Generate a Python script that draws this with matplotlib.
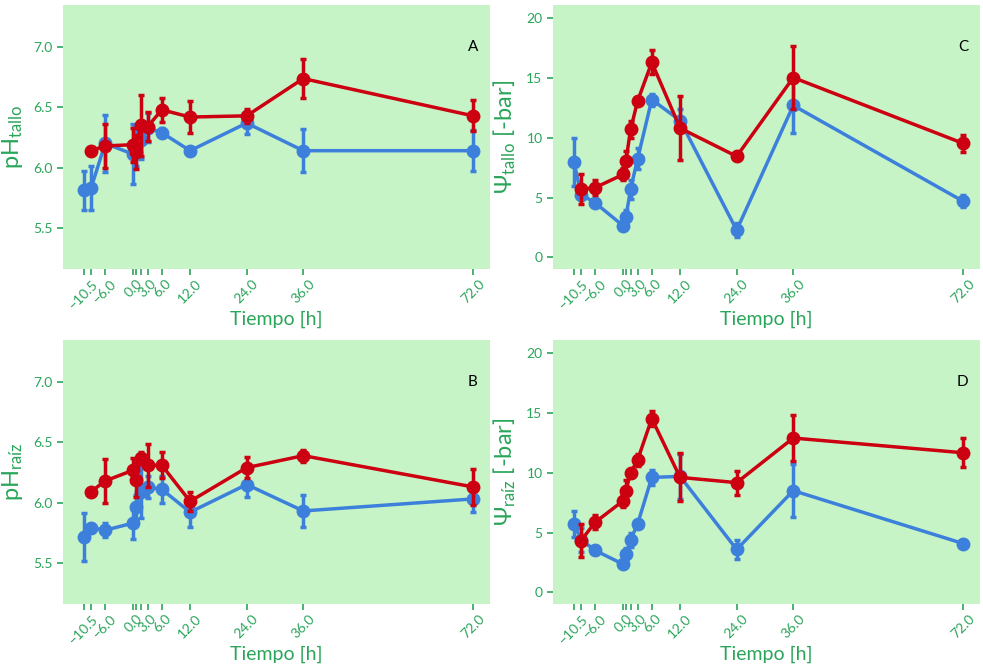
import matplotlib
matplotlib.use("Agg")
import matplotlib.pyplot as plt
import numpy as np

plt.rcParams['font.family'] = ['Lato', 'DejaVu Sans']
plt.rcParams['mathtext.fontset'] = 'custom'
plt.rcParams['mathtext.rm'] = 'Lato'
plt.rcParams['mathtext.it'] = 'Lato:italic'

# time points
t_blue = [-10.5, -9.0, -6.0, 0.0, 0.5, 1.5, 3.0, 6.0, 12.0, 24.0, 36.0, 72.0]
t_red = [-9.0, -6.0, 0.0, 0.5, 1.5, 3.0, 6.0, 12.0, 24.0, 36.0, 72.0]

tick_pos = [-10.5, -9.0, -6.0, 0.0, 0.5, 1.5, 3.0, 6.0, 12.0, 24.0, 36.0, 72.0]
tick_lab = ["\u221210.5", "", "\u22126.0", "0.0", "", "", "3.0", "6.0", "12.0", "24.0", "36.0", "72.0"]

# Panel A: pH tallo
pht_blue = [5.81, 5.83, 6.20, 6.11, 6.17, 6.23, 6.33, 6.29, 6.14, 6.37, 6.14, 6.14]
pht_blue_err = [0.16, 0.18, 0.24, 0.25, 0.16, 0.16, 0.12, 0.04, 0.03, 0.09, 0.18, 0.17]
pht_red = [6.14, 6.18, 6.19, 6.13, 6.35, 6.34, 6.48, 6.42, 6.43, 6.74, 6.43]
pht_red_err = [0.03, 0.18, 0.14, 0.14, 0.25, 0.12, 0.10, 0.13, 0.06, 0.16, 0.13]

# Panel B: pH raiz
phr_blue = [5.71, 5.79, 5.77, 5.83, 5.96, 6.09, 6.13, 6.11, 5.92, 6.15, 5.93, 6.03]
phr_blue_err = [0.20, 0.03, 0.06, 0.13, 0.10, 0.22, 0.09, 0.11, 0.12, 0.10, 0.13, 0.11]
phr_red = [6.09, 6.18, 6.27, 6.19, 6.37, 6.31, 6.31, 6.01, 6.29, 6.39, 6.13]
phr_red_err = [0.02, 0.18, 0.10, 0.14, 0.05, 0.18, 0.11, 0.08, 0.09, 0.05, 0.15]

# Panel C: Psi tallo
pst_blue = [7.97, 5.25, 4.55, 2.61, 3.33, 5.69, 8.25, 13.19, 11.44, 2.27, 12.70, 4.69]
pst_blue_err = [1.97, 0.3, 0.2, 0.3, 0.6, 0.8, 0.85, 0.5, 1.0, 0.6, 2.3, 0.5]
pst_red = [5.69, 5.83, 6.94, 8.03, 10.69, 13.08, 16.30, 10.80, 8.44, 15.03, 9.53]
pst_red_err = [1.25, 0.6, 0.5, 0.9, 0.7, 0.3, 1.0, 2.7, 0.1, 2.6, 0.7]

# Panel D: Psi raiz
psr_blue = [5.72, 4.39, 3.50, 2.33, 3.22, 4.39, 5.72, 9.61, 9.69, 3.58, 8.50, 4.08]
psr_blue_err = [1.1, 1.0, 0.2, 0.2, 0.5, 0.6, 0.3, 0.6, 1.9, 0.8, 2.2, 0.3]
psr_red = [4.33, 5.86, 7.67, 8.50, 9.97, 11.08, 14.53, 9.61, 9.17, 12.90, 11.67]
psr_red_err = [1.4, 0.6, 0.5, 0.9, 0.3, 0.5, 0.6, 2.0, 1.0, 1.9, 1.2]

BLUE = '#3d80dc'
RED = '#cc0011'
BG = '#c6f4c6'
GREEN = '#2aa55a'

fig = plt.figure(figsize=(9.83, 6.67), dpi=100)
W, H = 983, 667

def make_ax(x0, y0, x1, y1):
    return fig.add_axes([x0 / W, 1 - y1 / H, (x1 - x0) / W, (y1 - y0) / H])

axA = make_ax(63, 5, 490, 269)
axC = make_ax(553, 5, 980, 269)
axB = make_ax(63, 340, 490, 604)
axD = make_ax(553, 340, 980, 604)

panels = [
    (axA, pht_blue, pht_blue_err, pht_red, pht_red_err, r'pH$_{\mathrm{tallo}}$', 'A', (5.156, 7.352), [5.5, 6.0, 6.5, 7.0]),
    (axB, phr_blue, phr_blue_err, phr_red, phr_red_err, r'pH$_{\mathrm{raíz}}$', 'B', (5.156, 7.352), [5.5, 6.0, 6.5, 7.0]),
    (axC, pst_blue, pst_blue_err, pst_red, pst_red_err, r'$\Psi_{\mathrm{tallo}}$ [-bar]', 'C', (-0.98, 21.1), [0, 5, 10, 15, 20]),
    (axD, psr_blue, psr_blue_err, psr_red, psr_red_err, r'$\Psi_{\mathrm{raíz}}$ [-bar]', 'D', (-0.98, 21.1), [0, 5, 10, 15, 20]),
]

for ax, yb, eb, yr, er, ylab, letter, ylim, yticks in panels:
    ax.set_facecolor(BG)
    for s in ax.spines.values():
        s.set_visible(False)
    ax.errorbar(t_blue, yb, yerr=eb, color=BLUE, lw=2.5, marker='o', ms=9,
                elinewidth=2.5, capsize=2.5, capthick=2.5, zorder=2)
    ax.errorbar(t_red, yr, yerr=er, color=RED, lw=2.5, marker='o', ms=9,
                elinewidth=2.5, capsize=2.5, capthick=2.5, zorder=3)
    ax.set_xlim(-14.95, 75.6)
    ax.set_ylim(*ylim)
    ax.set_xticks(tick_pos)
    ax.set_xticklabels(tick_lab, rotation=45, ha='center')
    ax.set_yticks(yticks)
    if ylim[0] > 0:
        ax.set_yticklabels([f'{v:.1f}' for v in yticks])
    else:
        ax.set_yticklabels([f'{v:d}' for v in yticks])
    ax.tick_params(axis='both', colors=GREEN, labelcolor=GREEN, labelsize=10,
                   length=4, width=1.2)
    ax.tick_params(axis='x', pad=2)
    ax.set_xlabel('Tiempo [h]', color=GREEN, fontsize=14, labelpad=0)
    ax.set_ylabel(ylab, color=GREEN, fontsize=17, labelpad=6)
    ax.text(0.96, 0.84, letter, transform=ax.transAxes, ha='center', va='center',
            fontsize=11, color='black')

fig.savefig('out.png', dpi=100)
